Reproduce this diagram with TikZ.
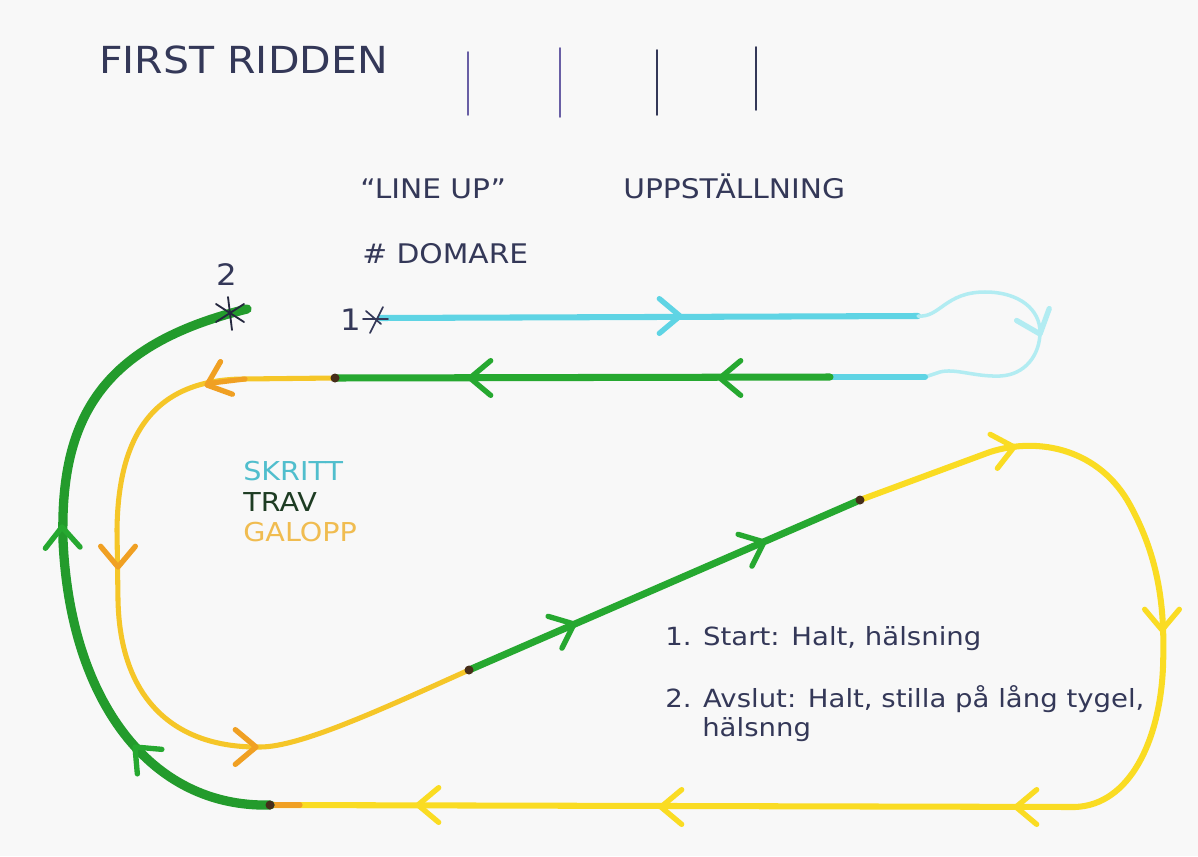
\documentclass[tikz,border=0pt]{standalone}
\usepackage{fontspec}
\setmainfont[FakeStretch=1.1]{DejaVu Sans}
\definecolor{ink}{RGB}{52,56,88}
\definecolor{judge}{RGB}{105,95,165}
\definecolor{skritt}{RGB}{95,212,228}
\definecolor{skrittpale}{RGB}{178,236,242}
\definecolor{trav}{RGB}{38,168,48}
\definecolor{travdark}{RGB}{30,60,35}
\definecolor{galopp}{RGB}{250,220,35}
\definecolor{galoppdeep}{RGB}{245,198,40}
\definecolor{galopptip}{RGB}{240,160,35}
\definecolor{galopptext}{RGB}{240,188,80}
\definecolor{skritttext}{RGB}{80,190,205}
\definecolor{bullet}{RGB}{70,45,25}
\definecolor{paper}{RGB}{248,248,248}
\begin{document}
\begin{tikzpicture}[x=0.025cm,y=-0.025cm,line cap=round,line join=round,
  chev/.style={line width=3.8pt},
  lbl/.style={inner sep=0pt,anchor=base west,text=ink,font=\fontsize{19.2}{22}\selectfont}]
  \fill[paper] (0,0) rectangle (1198,856);
  \useasboundingbox (0,0) rectangle (1198,856);

  \node[lbl,font=\fontsize{26.5}{30}\selectfont] (title) at (99,73) {FIRST RIDDEN};
  \foreach \x/\t/\b/\c in {468/52/115/judge,560/48/117/judge,657/50/115/ink,756/47/110/ink}
  \draw[\c,line width=1.3pt] (\x,\t) -- (\x,\b);
  \node[lbl] (lineup) at (360,198) {“LINE UP”};
  \node[lbl] (uppst) at (623,198) {UPPSTÄLLNING};
  \node[lbl] (domare) at (362,263) {\# DOMARE};

  \coordinate (start) at (380,318);
  \coordinate (turn) at (918,316);
  \coordinate (back) at (925,377);
  \coordinate (walk) at (830,377);
  \coordinate (d1) at (335,378);
  \coordinate (d2) at (469,670);
  \coordinate (d3) at (860,500);
  \coordinate (d4) at (270,805);
  \coordinate (halt) at (247,309);

  \draw[skritt,line width=4.3pt] (start) -- (turn);
  \draw[skrittpale,line width=2.5pt] (turn) .. controls (940,318) and (945,292) .. (985,292)
        .. controls (1020,292) and (1040,310) .. (1040,332)
        .. controls (1040,355) and (1025,375) .. (1000,376)
        .. controls (975,377) and (955,368) .. (940,372) -- (back);
  \draw[skritt,line width=4.3pt] (back) -- (walk);
  \draw[trav,line width=5pt] (walk) -- (d1);
  \draw[galoppdeep,line width=3.6pt] (d1) -- (243,379) .. controls (150,380) and (118,440) .. (117,530)
        -- (118,600) .. controls (120,700) and (175,748) .. (260,747)
        .. controls (300,747) and (380,710) .. (d2);
  \draw[galopptip,line width=3.6pt] (245,379) -- (212,383);
  \draw[trav,line width=5pt] (d2) -- (d3);
  \draw[galopp,line width=4.3pt] (d3) -- (990,452) .. controls (1040,436) and (1100,450) .. (1130,505)
        .. controls (1160,560) and (1165,610) .. (1163,667)
        .. controls (1160,740) and (1130,805) .. (1075,807) -- (d4);
  \draw[galopptip,line width=3.6pt] (d4) -- (300,805);
  \draw[trav!92!black,line width=6.6pt] (d4) .. controls (150,808) and (70,700) .. (63,540)
        .. controls (60,420) and (100,345) .. (halt);
  \foreach \d in {d1,d2,d3,d4}
  \fill[bullet] (\d) circle (4.5);

  \foreach \px/\py/\a/\c in {680/316/0/skritt,1040/334/70/skrittpale,720/378/180/trav,470/378/180/trav,
        207/385/160/galopptip,118/567/90/galopptip,256/747/0/galopptip,574/624/-23.5/trav,
        764/542/-23.5/trav,1014/447/-12/galopp,1162/630/90/galopp,1016/807/180/galopp,
        661/807/180/galopp,418/805/180/galopp,135/747/-135/trav,62/527/-92/trav}
  \draw[chev,\c] (\px,\py) ++(\a+140:27) -- (\px,\py) -- ++(\a-140:27);

  \draw[ink!70!black,line width=1.3pt] (216,304) -- (244,322) (216,322) -- (244,304) (228,297) -- (232,330);
  \draw[ink,line width=1.2pt] (363,319) -- (388,319) (370,333) -- (383,307) (366,311) -- (381,324);
  \node[lbl,font=\fontsize{21}{24}\selectfont] (mark2) at (216,285) {2};
  \node[lbl,font=\fontsize{21}{24}\selectfont] (mark1) at (340,330) {1};

  \node[lbl,text=skritttext,font=\fontsize{18.5}{22}\selectfont] (skritt) at (243,480) {SKRITT};
  \node[lbl,text=travdark,font=\fontsize{18.5}{22}\selectfont] (trav) at (243,511) {TRAV};
  \node[lbl,text=galopptext,font=\fontsize{18.5}{22}\selectfont] (galopp) at (243,541) {GALOPP};

  \node[lbl,font=\fontsize{17.8}{21}\selectfont] (note1) at (665,645) {1. Start: Halt, hälsning};
  \node[lbl,font=\fontsize{17.8}{21}\selectfont] (note2) at (665,707) {2. Avslut: Halt, stilla på lång tygel,};
  \node[lbl,font=\fontsize{17.8}{21}\selectfont] (note3) at (702,736) {hälsnng};
\end{tikzpicture}
\end{document}
